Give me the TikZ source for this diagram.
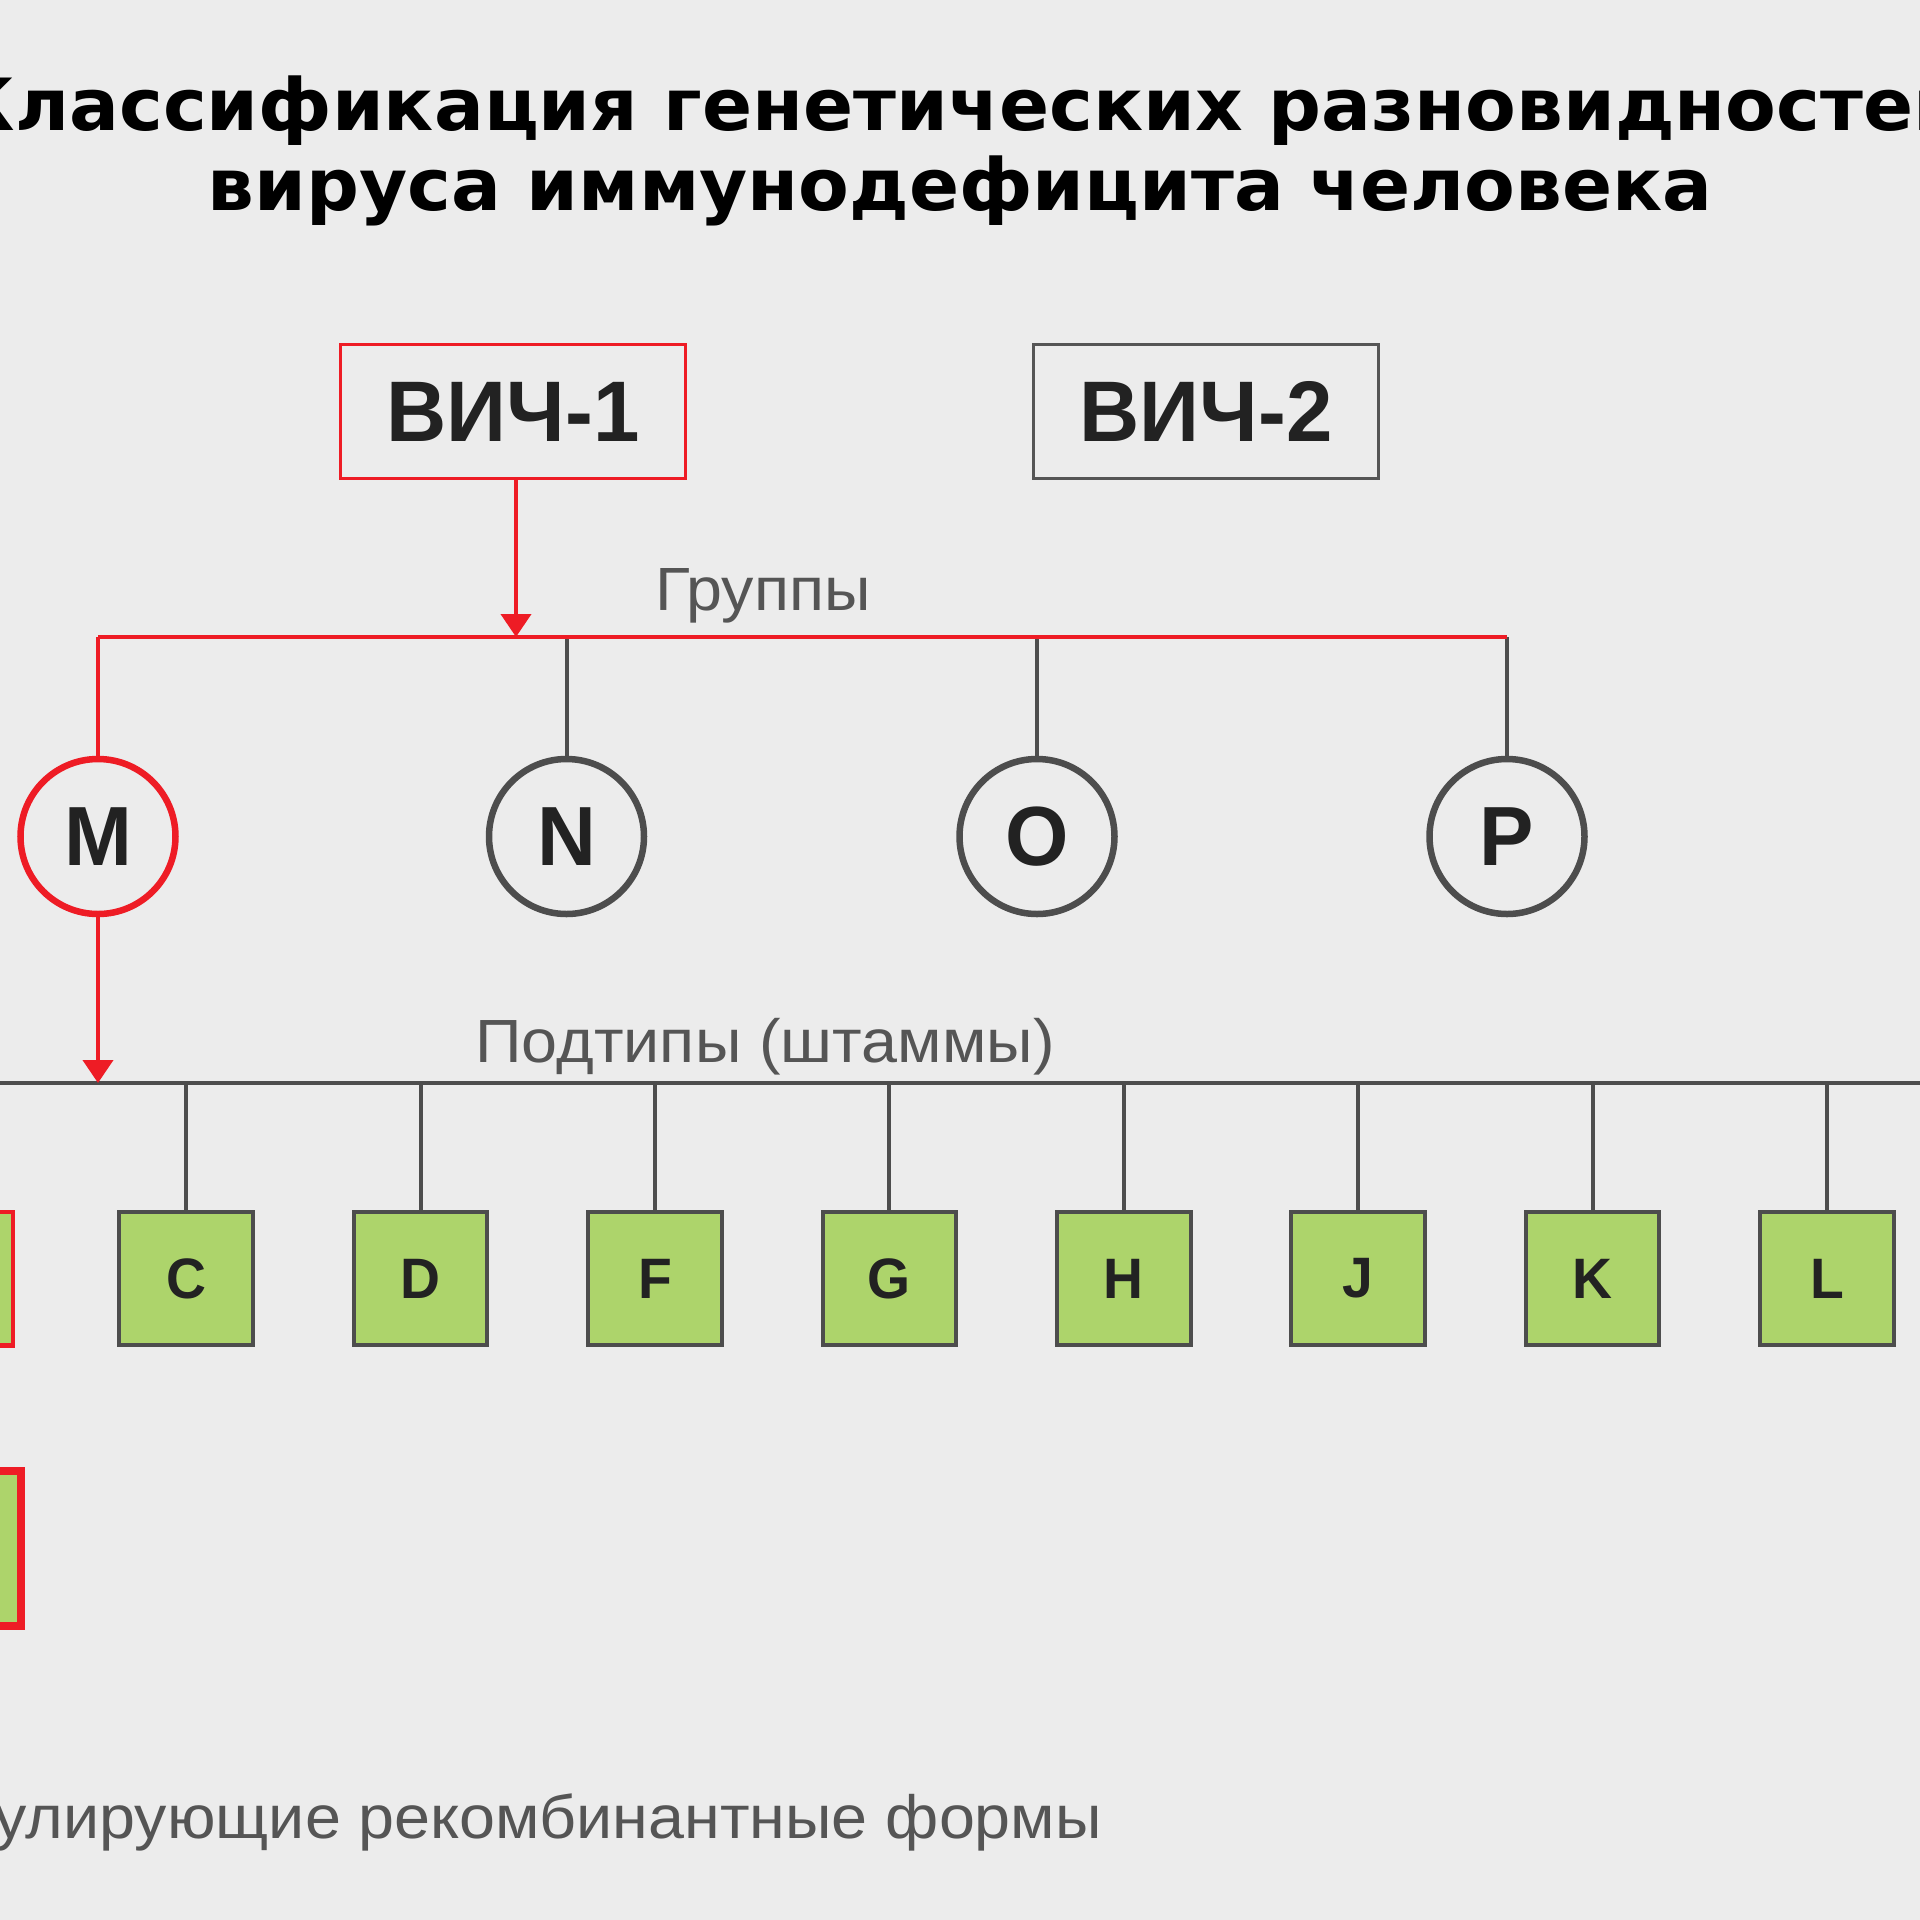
\documentclass[tikz,border=0pt]{standalone}
\usepackage{fontspec}
\setmainfont{Liberation Sans}
\newfontfamily\titlefont{DejaVu Sans}[FakeStretch=1.027]
\newfontfamily\lblfont{Liberation Sans}[FakeStretch=1.06]
\newfontfamily\medfont{Liberation Sans}[FakeStretch=0.97]
\usetikzlibrary{arrows.meta}
\definecolor{bg}{HTML}{ECECEC}
\definecolor{hred}{HTML}{EE1C25}
\definecolor{lgray}{HTML}{4D4D4D}
\definecolor{tgray}{HTML}{555555}
\definecolor{sgreen}{HTML}{ADD46B}
\definecolor{ink}{HTML}{222222}
\tikzset{
  hivbox/.style={rectangle, draw=#1, line width=3.5pt, minimum width=345pt, minimum height=134pt, inner sep=0pt, text=ink, font=\medfont\bfseries\fontsize{86}{90}\selectfont},
  grpcirc/.style={circle, draw=#1, line width=6.5pt, minimum size=155pt, inner sep=0pt, text=ink, font=\medfont\bfseries\fontsize{84}{90}\selectfont},
  subbox/.style={rectangle, draw=#1, fill=sgreen, line width=4pt, minimum width=133.5pt, minimum height=133.5pt, inner sep=0pt, text=ink, font=\medfont\bfseries\fontsize{57}{60}\selectfont},
  lbl/.style={text=tgray, font=\lblfont\fontsize{61}{64}\selectfont, inner sep=0pt},
  ttl/.style={text=black, font=\titlefont\bfseries\fontsize{72}{80}\selectfont, inner sep=0pt},
  redline/.style={draw=hred, line width=4pt},
  grayline/.style={draw=lgray, line width=4pt},
  redarrow/.style={redline, -{Triangle[width=30pt,length=23pt]}}
}
\begin{document}
\begin{tikzpicture}[x=1pt,y=-1pt]
\fill[bg] (0,0) rectangle (1920,1920);
\useasboundingbox (0,0) rectangle (1920,1920);
\clip (0,0) rectangle (1920,1920);

% title
\node[ttl, anchor=base] (t1) at (960,130) {Классификация генетических разновидностей};
\node[ttl, anchor=base] (t2) at (960,210) {вируса иммунодефицита человека};

% HIV types
\node[hivbox=hred] (hiv1) at (513,411.5) {ВИЧ-1};
\node[hivbox=tgray] (hiv2) at (1206,411.5) {ВИЧ-2};

% groups
\coordinate (gM) at (98,637);
\coordinate (gN) at (566.5,637);
\coordinate (gO) at (1037,637);
\coordinate (gP) at (1507,637);
\coordinate (gA) at (516,637);
\node[lbl, anchor=base] (glbl) at (763,610) {Группы};

\node[grpcirc=hred] (M) at (98,836.5) {M};
\node[grpcirc=lgray] (N) at (566.5,836.5) {N};
\node[grpcirc=lgray] (O) at (1037,836.5) {O};
\node[grpcirc=lgray] (P) at (1507,836.5) {P};

\draw[grayline] (gN) -- (N.north);
\draw[grayline] (gO) -- (O.north);
\draw[grayline] (gP) -- (P.north);
\draw[redline] (gM) -- (gP);
\draw[redline] (gM) -- (M.north);
\draw[redarrow] (gA |- hiv1.south) -- (gA);

% subtypes
\coordinate (sL) at (-20,1083);
\coordinate (sR) at (1940,1083);
\draw[grayline] (sL) -- (sR);
\node[lbl, anchor=base] (slbl) at (765,1062) {Подтипы (штаммы)};

\node[subbox=hred, line width=4.5pt] (B) at (-54,1278.5) {};
\foreach \n/\x in {C/186.2, D/420.6, F/655, G/889.4, H/1123.8, J/1358.2, K/1592.6, L/1827}{
  \node[subbox=lgray] (\n) at (\x,1278.5) {\n};
  \coordinate (s\n) at (\x,1083);
  \draw[grayline] (s\n) -- (\n.north);
}
\coordinate (sB) at (-54,1083);
\draw[grayline] (sB) -- (B.north);

\draw[redarrow] (M.south) -- (M.south |- sL);

% CRF
\node[rectangle, draw=hred, fill=sgreen, line width=8.5pt, minimum width=155pt, minimum height=155pt, inner sep=0pt] (crf) at (-56.5,1548.5) {};
\node[lbl, anchor=base east] (crflbl) at (1102,1838) {Циркулирующие рекомбинантные формы};
\end{tikzpicture}
\end{document}
